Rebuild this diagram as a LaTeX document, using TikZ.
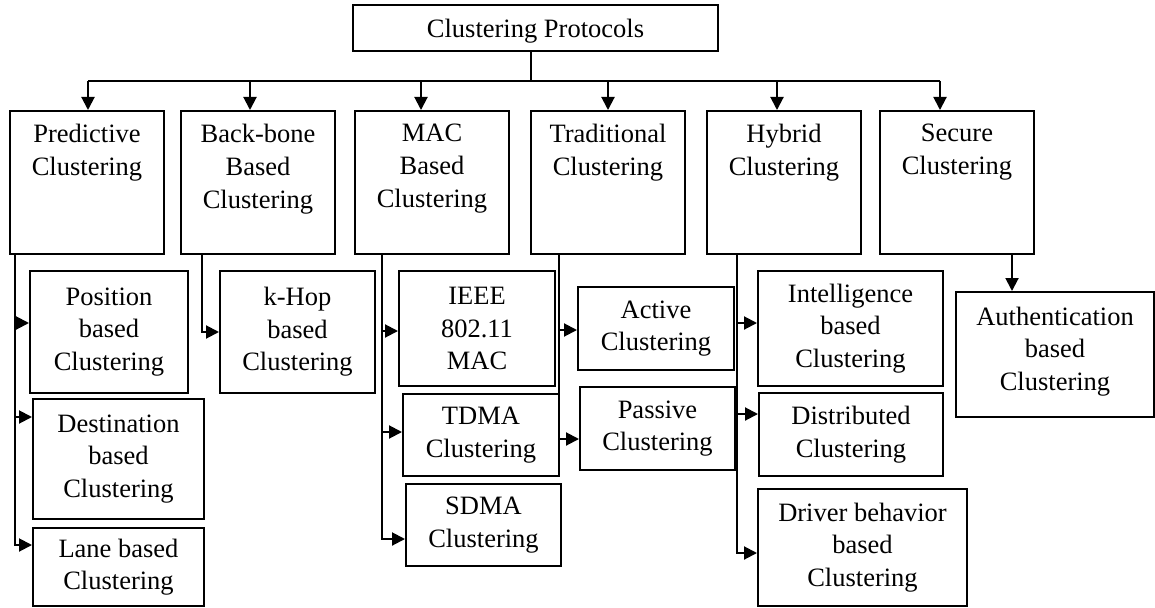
\documentclass[tikz,border=0pt]{standalone}
\usepackage{fontspec}
\setmainfont{Liberation Serif}
\usepackage{tikz}
\usetikzlibrary{arrows.meta}

\begin{document}
\begin{tikzpicture}[x=1pt, y=-1pt,
    box/.style={draw, line width=2pt, align=center, inner sep=0pt,
                font=\fontsize{26.5}{32.5}\selectfont},
    catbox/.style={box, minimum width=154pt, minimum height=143pt, anchor=north},
    cattext/.style={anchor=north, align=center, inner sep=0pt,
                    font=\fontsize{26.5}{33}\selectfont},
    wire/.style={line width=2pt},
    arr/.style={wire, -{Triangle[length=13pt, width=13pt]}}]
  \useasboundingbox (0,0) rectangle (1155,607);

  % Root
  \node[box, minimum width=365pt, minimum height=46pt, text height=24pt] (root) at (535.5,28) {Clustering Protocols};
  \coordinate (bus) at (0,81);

  % Main categories
  \node[catbox] (pred) at (87,110) {};
  \node[catbox] (bb)   at (258,110) {};
  \node[catbox] (mac)  at (432,110) {};
  \node[catbox] (trad) at (608,110) {};
  \node[catbox] (hyb)  at (784,110) {};
  \node[catbox] (sec)  at (957,110) {};
  \node[cattext] (predT) at ([yshift=-14pt]pred.north) {Predictive\\Clustering};
  \node[cattext] (bbT)   at ([yshift=-14pt]bb.north)   {Back-bone\\Based\\Clustering};
  \node[cattext] (macT)  at ([yshift=-14pt]mac.north)  {MAC\\Based\\Clustering};
  \node[cattext] (tradT) at ([yshift=-14pt]trad.north) {Traditional\\Clustering};
  \node[cattext] (hybT)  at ([yshift=-14pt]hyb.north)  {Hybrid\\Clustering};
  \node[cattext] (secT)  at ([yshift=-14pt]sec.north)  {Secure\\Clustering};

  % Root to categories
  \draw[wire] ([xshift=-4.5pt]root.south) -- ([xshift=-4.5pt]root.south |- bus);
  \draw[wire] ([xshift=1pt]pred.north |- bus) -- ([xshift=-17pt]sec.north |- bus);
  \foreach \n/\dx in {pred/1, bb/-8, mac/-11, trad/0, hyb/-7, sec/-17} {
    \draw[arr] ([xshift=\dx pt]\n.north |- bus) -- ([xshift=\dx pt]\n.north);
  }

  % Sub-protocols
  \node[box, minimum width=158pt, minimum height=122pt] (pos)  at (109,332)   {Position\\based\\Clustering};
  \node[box, minimum width=171pt, minimum height=120pt] (dest) at (118.5,459) {Destination\\based\\Clustering};
  \node[box, minimum width=171pt, minimum height=78pt]  (lane) at (118.5,567) {Lane based\\Clustering};
  \node[box, minimum width=155pt, minimum height=122pt] (khop) at (297.5,332) {k-Hop\\based\\Clustering};
  \node[box, minimum width=156pt, minimum height=115pt] (ieee) at (477,328.5) {IEEE\\802.11\\MAC};
  \node[box, minimum width=156pt, minimum height=82pt]  (tdma) at (481,435)   {TDMA\\Clustering};
  \node[box, minimum width=155pt, minimum height=82pt]  (sdma) at (483.5,525) {SDMA\\Clustering};
  \node[box, minimum width=156pt, minimum height=83pt]  (act)  at (656,328.5) {Active\\Clustering};
  \node[box, minimum width=155pt, minimum height=83pt]  (pas)  at (657.5,428.5) {Passive\\Clustering};
  \node[box, minimum width=185pt, minimum height=115pt] (intel) at (850.5,328.5) {Intelligence\\based\\Clustering};
  \node[box, minimum width=184pt, minimum height=83pt]  (dist) at (851,434.5) {Distributed\\Clustering};
  \node[box, minimum width=209pt, minimum height=117pt] (drv)  at (862.5,547.5) {Driver behavior\\based\\Clustering};
  \node[box, minimum width=198pt, minimum height=125pt, text depth=12pt] (auth) at (1055,354.5) {Authentication\\based\\Clustering};

  % Rails to sub-protocols
  \foreach \c/\dx/\n/\dy in {pred/5.5/pos/9, pred/5.5/dest/42, pred/5.5/lane/22,
                             bb/22/khop/0,
                             mac/28/ieee/-2.5, mac/28/tdma/3, mac/28/sdma/-14,
                             trad/29/act/-1.5, trad/29/pas/-10.5,
                             hyb/31/intel/5.5, hyb/31/dist/20.5, hyb/31/drv/-5.5} {
    \draw[arr] ([xshift=\dx pt]\c.south west) |- ([yshift=\dy pt]\n.west);
  }
  \draw[arr] ([xshift=55pt]sec.south) -- ([xshift=55pt]sec.south |- auth.north);
\end{tikzpicture}
\end{document}
